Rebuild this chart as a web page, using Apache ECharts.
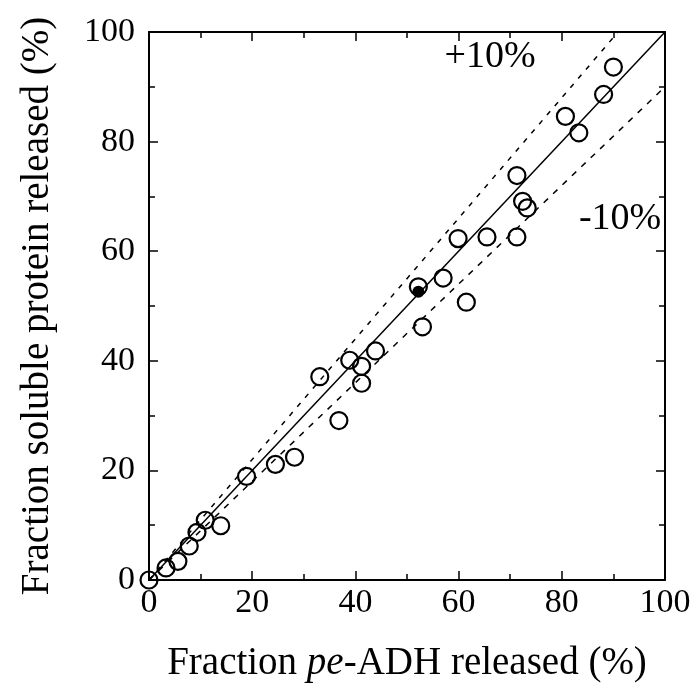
<!DOCTYPE html>
<html>
<head>
<meta charset="utf-8">
<script src="https://cdn.jsdelivr.net/npm/echarts@6/dist/echarts.min.js"></script>
<style>
html, body { margin: 0; padding: 0; background: #fff; }
#chart { width: 695px; height: 691px; }
</style>
</head>
<body>
<div id="chart"></div>
<script>
// 数据: x = pe-ADH released (%), y = soluble protein released (%)
var openX = [0, 3.3, 5.6, 7.8, 9.3, 10.9, 13.9, 18.9, 24.5, 28.2, 33.1, 36.8, 38.9, 41.2, 41.2, 43.9,
             52.2, 53.0, 57.0, 61.5, 59.9, 65.5, 71.3, 71.3, 72.4, 73.3, 80.7, 83.3, 88.1, 90.0];
var openY = [0, 2.2, 3.4, 6.2, 8.7, 10.9, 9.9, 18.9, 21.1, 22.4, 37.1, 29.1, 40.1, 39.0, 35.9, 41.8,
             53.5, 46.2, 55.1, 50.7, 62.3, 62.6, 62.6, 73.8, 69.1, 67.9, 84.6, 81.6, 88.6, 93.6];
var filledX = [52.2];
var filledY = [52.6];

// 参考线 y = x, +10%, -10%
var lineEqual = [[0, 0], [100, 100]];
var linePlus = [[0, 0], [90.9, 100]];
var lineMinus = [[0, 0], [100, 90]];

// 标注文字
var noteText = ['+10%', '-10%'];
var notePos = [[66.1, 95.4], [91.3, 65.8]];

var ticks = [0, 20, 40, 60, 80, 100];

function pairs(xs, ys) {
    var out = [];
    for (var i = 0; i < xs.length; i++) {
        out.push([xs[i], ys[i]]);
    }
    return out;
}

var font = "'Liberation Serif', 'Times New Roman', serif";
var myChart = echarts.init(document.getElementById('chart'));

function makeAxis(pos, showLabel, extra) {
    var ax = {
        type: 'value',
        position: pos,
        min: 0,
        max: 100,
        interval: 20,
        axisLine: {show: true, onZero: false, lineStyle: {color: '#000', width: 2}},
        axisTick: {show: true, inside: true, length: 9, lineStyle: {color: '#000', width: 1.5}},
        minorTick: {show: true, splitNumber: 2, length: 6, lineStyle: {color: '#000', width: 1.5}},
        splitLine: {show: false},
        axisLabel: {
            show: showLabel,
            color: '#000',
            fontFamily: font,
            fontSize: 34,
            margin: pos === 'left' ? 14 : 6,
            formatter: function (v) { return ticks.indexOf(v) >= 0 ? String(v) : ''; }
        }
    };
    for (var k in extra) ax[k] = extra[k];
    return ax;
}

var option = {
    backgroundColor: '#fff',
    animation: false,
    grid: {left: 149, right: 30, top: 32, bottom: 111, containLabel: false},
    xAxis: [
        makeAxis('bottom', true, {
            name: '{a|Fraction }{i|pe}{a|-ADH released (%)}',
            nameLocation: 'middle',
            nameGap: 64,
            nameTextStyle: {
                rich: {
                    a: {fontFamily: font, fontSize: 39, color: '#000'},
                    i: {fontFamily: font, fontSize: 39, fontStyle: 'italic', color: '#000'}
                }
            }
        }),
        makeAxis('top', false, {})
    ],
    yAxis: [
        makeAxis('left', true, {
            name: 'Fraction soluble protein released (%)',
            nameLocation: 'middle',
            nameGap: 92,
            nameTextStyle: {fontFamily: font, fontSize: 39, color: '#000'}
        }),
        makeAxis('right', false, {})
    ],
    series: [
        {
            type: 'line',
            data: lineEqual,
            symbol: 'none',
            lineStyle: {color: '#000', width: 1.5},
            z: 1
        },
        {
            type: 'line',
            data: linePlus,
            symbol: 'none',
            lineStyle: {color: '#000', width: 1.5, type: [5, 7]},
            z: 1
        },
        {
            type: 'line',
            data: lineMinus,
            symbol: 'none',
            lineStyle: {color: '#000', width: 1.5, type: [6, 7]},
            z: 1
        },
        {
            type: 'scatter',
            data: pairs(openX, openY),
            symbol: 'circle',
            symbolSize: 17,
            itemStyle: {color: 'rgba(0,0,0,0)', borderColor: '#000', borderWidth: 2.2, opacity: 1},
            z: 3
        },
        {
            type: 'scatter',
            data: pairs(filledX, filledY),
            symbol: 'circle',
            symbolSize: 12,
            itemStyle: {color: '#000', opacity: 1},
            z: 2
        },
        {
            type: 'scatter',
            data: notePos.map(function (p, i) { return {value: p, name: noteText[i]}; }),
            symbolSize: 0,
            itemStyle: {color: '#000', opacity: 1},
            label: {
                show: true,
                position: 'inside',
                formatter: '{b}',
                fontFamily: font,
                fontSize: 38,
                color: '#000',
                opacity: 1,
                textBorderWidth: 0,
                textBorderColor: 'transparent'
            },
            silent: true,
            z: 4
        }
    ]
};
myChart.setOption(option);
</script>
</body>
</html>
